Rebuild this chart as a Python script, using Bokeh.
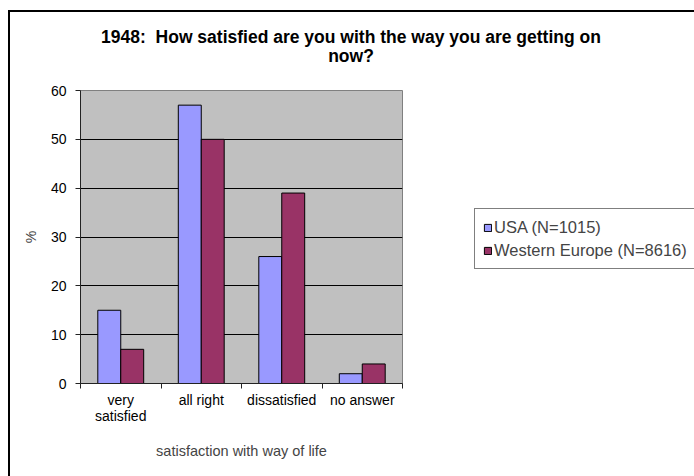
from bokeh.plotting import figure
from bokeh.models import (ColumnDataSource, Range1d, LinearAxis, FixedTicker, Legend, LegendItem,
                          Grid, InlineStyleSheet, Div)
from bokeh.layouts import column, row
from bokeh.transform import dodge
from bokeh.embed import file_html
from bokeh.resources import INLINE

categories = ["very satisfied", "all right", "dissatisfied", "no answer"]
cat_labels = ["very\nsatisfied", "all right", "dissatisfied", "no answer"]
usa = [15, 57, 26, 2]
europe = [7, 50, 39, 4]
series_names = ["USA (N=1015)", "Western Europe (N=8616)"]
series_colors = ["#9999FF", "#993366"]
y_ticks = [0, 10, 20, 30, 40, 50, 60]
title_lines = ["1948:  How satisfied are you with the way you are getting on", "now?"]
x_title = "satisfaction with way of life"
y_title = "%"

FONT = "Liberation Sans"
TITLE_H = 80
MAIN_W = 412
FIG_H = 476 - TITLE_H

n = len(categories)
centers = [i + 0.5 for i in range(n)]
edges = list(range(n + 1))
src = ColumnDataSource(dict(xc=centers, cat=categories, usa=usa, europe=europe))

p = figure(width=MAIN_W, height=FIG_H, x_range=Range1d(0, n), y_range=Range1d(0, 60),
           output_backend="svg", toolbar_location=None,
           x_axis_type=None, y_axis_type=None,
           min_border_left=80, min_border_right=MAIN_W - 402, min_border_top=90 - TITLE_H,
           min_border_bottom=93)
p.title = None
p.background_fill_color = "#C0C0C0"
p.border_fill_color = "white"
p.outline_line_color = "#808080"
p.outline_line_width = 1

grid = Grid(dimension=1, ticker=FixedTicker(ticks=y_ticks[1:-1]),
            grid_line_color="black", grid_line_width=1)
p.add_layout(grid, "center")

bw = 0.285
series_cols = ["usa", "europe"]
offsets = [-bw / 2, bw / 2]
for col, off, c in zip(series_cols, offsets, series_colors):
    p.vbar(x=dodge("xc", off), top=col, width=bw, source=src,
           fill_color=c, line_color="black", line_width=1)

# y axis
yax = LinearAxis(ticker=FixedTicker(ticks=y_ticks), axis_label=y_title)
yax.axis_line_color = "#222222"
yax.major_tick_line_color = "#222222"
yax.major_tick_in = 0
yax.major_tick_out = 5
yax.minor_tick_line_color = None
yax.major_label_text_font = FONT
yax.major_label_text_font_size = "14px"
yax.major_label_text_color = "black"
yax.major_label_standoff = 9
yax.axis_label_text_font = FONT
yax.axis_label_text_font_size = "14px"
yax.axis_label_text_font_style = "normal"
yax.axis_label_standoff = 9
p.add_layout(yax, "left")

# x axis: labels at category centres, tick marks at category boundaries
xax = LinearAxis(ticker=FixedTicker(ticks=centers, minor_ticks=edges), axis_label=x_title)
xax.axis_line_color = "#222222"
xax.major_tick_line_color = None
xax.major_tick_in = 0
xax.major_tick_out = 5
xax.minor_tick_line_color = "#222222"
xax.minor_tick_in = 0
xax.minor_tick_out = 5
xax.major_label_overrides = {c: lab for c, lab in zip(centers, cat_labels)}
xax.major_label_text_font = FONT
xax.major_label_text_font_size = "14px"
xax.major_label_text_line_height = 1.05
xax.major_label_text_color = "black"
xax.major_label_standoff = 3
xax.axis_label_text_font = FONT
xax.axis_label_text_font_size = "14.5px"
xax.axis_label_text_font_style = "normal"
xax.axis_label_standoff = 16
p.add_layout(xax, "below")

# legend panel to the right of the plot (its bars lie outside its visible range)
lf = figure(width=694 - MAIN_W, height=FIG_H, x_range=Range1d(-20, -19), y_range=Range1d(0, 1),
            output_backend="svg", toolbar_location=None, x_axis_type=None, y_axis_type=None,
            min_border=0)
lf.title = None
lf.outline_line_color = None
lf.background_fill_color = "white"
lf.border_fill_color = "white"
lr = [lf.vbar(x=dodge("xc", off), top=col, width=bw, source=src, fill_color=c,
              line_color="black", line_width=1)
      for col, off, c in zip(series_cols, offsets, series_colors)]

legend = Legend(items=[LegendItem(label=nm, renderers=[r]) for nm, r in zip(series_names, lr)],
                location=(62, 114))
legend.border_line_color = "black"
legend.border_line_width = 1
legend.background_fill_color = "white"
legend.label_text_font = FONT
legend.label_text_font_size = "16.5px"
legend.glyph_width = 9
legend.glyph_height = 9
legend.label_standoff = 2
legend.label_height = 20
legend.spacing = 3
legend.padding = 8
legend.margin = 0
lf.add_layout(legend, "center")

title_html = ("<div style=\"width:694px; box-sizing:border-box; padding-top:28px; padding-left:8px;"
              " text-align:center; white-space:pre; font-family:'Liberation Sans';"
              " font-weight:bold; font-size:17.5px; line-height:19px; color:black;\">"
              + title_lines[0] + "<br>" + title_lines[1] + "</div>")
title_div = Div(text=title_html, width=694, height=TITLE_H, margin=0)

layout = column(title_div, row(p, lf, spacing=0, margin=0), spacing=0, margin=0)
layout.stylesheets = [InlineStyleSheet(css="""
:host { position: relative; }
:host::before { content: ""; position: absolute; left: 8px; top: 10px; width: 2px; height: 466px;
  background: black; pointer-events: none; z-index: 10; }
:host::after { content: ""; position: absolute; left: 8px; top: 10px; width: 686px; height: 2px;
  background: black; pointer-events: none; z-index: 10; }
""")]

open("out.html", "w").write(file_html(layout, INLINE))
